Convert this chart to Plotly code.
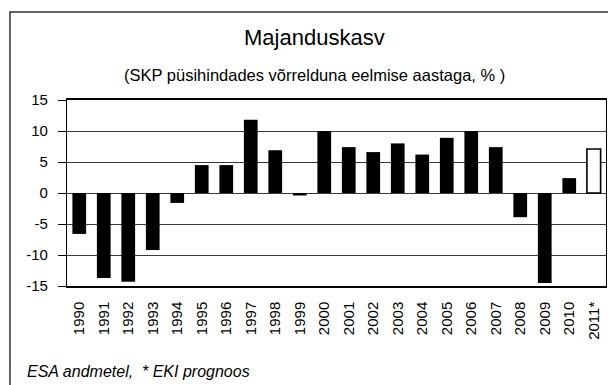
import plotly.graph_objects as go

# Annual real GDP growth, %
years = ["1990", "1991", "1992", "1993", "1994", "1995", "1996", "1997", "1998", "1999",
         "2000", "2001", "2002", "2003", "2004", "2005", "2006", "2007", "2008", "2009",
         "2010", "2011*"]
growth = [-6.6, -13.7, -14.3, -9.2, -1.6, 4.5, 4.5, 11.8, 6.9, -0.4,
          10.0, 7.4, 6.6, 8.0, 6.2, 8.9, 10.0, 7.4, -3.9, -14.5,
          2.4, 7.1]
forecast = [False] * 21 + [True]

y_ticks = [-15, -10, -5, 0, 5, 10, 15]

FONT = "Liberation Sans, Arial, sans-serif"
INK = "#000000"
GRID = "#3a3a3a"

fill = ["#ffffff" if f else INK for f in forecast]
edge_w = [1.6 if f else 0 for f in forecast]

fig = go.Figure(
    go.Bar(
        x=years,
        y=growth,
        marker=dict(color=fill, line=dict(color=INK, width=edge_w)),
        hoverinfo="x+y",
    )
)

fig.update_layout(
    width=608,
    height=385,
    margin=dict(l=67, r=2, t=100, b=99),
    paper_bgcolor="white",
    plot_bgcolor="white",
    bargap=0.44,
    showlegend=False,
    font=dict(family=FONT, color=INK, size=15),
)

fig.update_xaxes(
    type="category",
    tickangle=-90,
    tickfont=dict(size=15, family=FONT),
    showgrid=False,
    showline=True,
    linecolor=INK,
    linewidth=1.5,
    mirror=True,
    ticks="",
    ticklabelstandoff=8,
)
fig.update_yaxes(
    range=[-15, 15],
    tickvals=y_ticks,
    ticktext=[str(v) for v in y_ticks],
    tickfont=dict(size=15, family=FONT),
    showgrid=True,
    gridcolor=GRID,
    gridwidth=1,
    zeroline=True,
    zerolinecolor=GRID,
    zerolinewidth=1,
    showline=True,
    linecolor=INK,
    linewidth=1.2,
    mirror=True,
    ticks="outside",
    ticklen=8,
    tickcolor=INK,
    ticklabelstandoff=7,
)

# Outer frame around the whole chart
fig.add_shape(
    type="rect", xref="paper", yref="paper",
    x0=-0.1058, x1=1.006, y0=-0.58, y1=1.473,
    line=dict(color="#333333", width=1.5), fillcolor="rgba(0,0,0,0)", layer="below",
)

fig.add_annotation(
    text="Majanduskasv", xref="paper", yref="paper", x=0.46, y=1.335,
    xanchor="center", yanchor="middle", showarrow=False,
    font=dict(size=22, family=FONT, color=INK),
)
fig.add_annotation(
    text="(SKP püsihindades võrrelduna eelmise aastaga, % )", xref="paper", yref="paper",
    x=0.46, y=1.135, xanchor="center", yanchor="middle", showarrow=False,
    font=dict(size=16.5, family=FONT, color=INK),
)
fig.add_annotation(
    text="<i>ESA andmetel,  * EKI prognoos</i>", xref="paper", yref="paper",
    x=-0.078, y=-0.458, xanchor="left", yanchor="middle", showarrow=False,
    font=dict(size=16, family=FONT, color=INK),
)

fig.write_html("out.html")
